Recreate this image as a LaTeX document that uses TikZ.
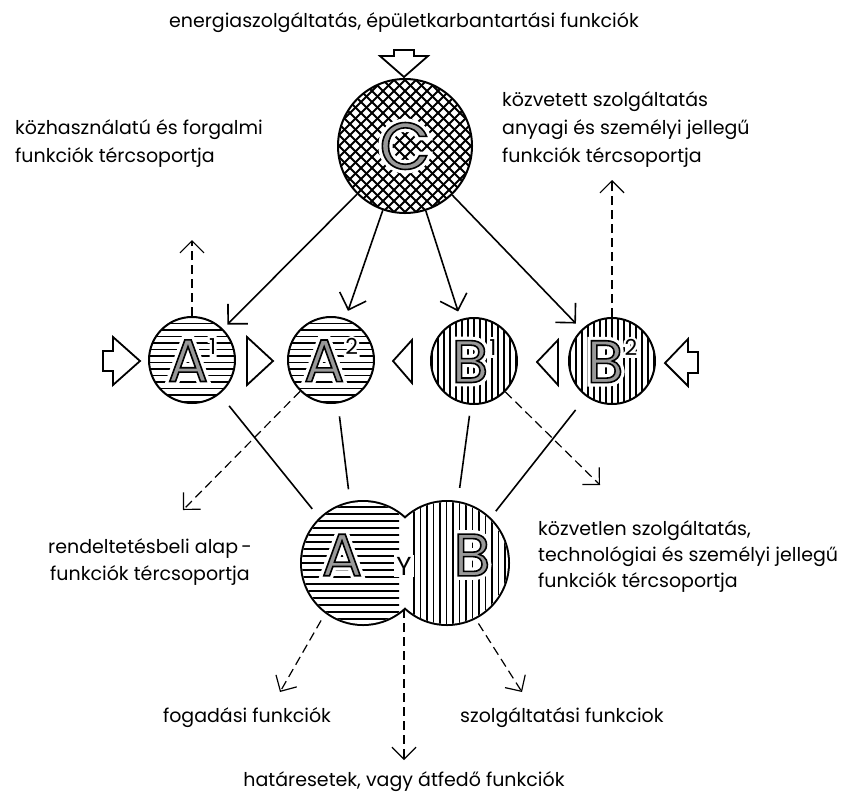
\documentclass[tikz,border=0pt]{standalone}
\usepackage{fontspec}
\setmainfont{Poppins}
\usetikzlibrary{arrows.meta,calc}
\newcommand\lbl{\fontsize{19}{23}\selectfont}
\newcommand\haloT[2]{\rlap{\color{white}\special{pdf:literal direct 2 Tr #1 w}#2\special{pdf:literal direct 0 Tr}}}
\newcommand\bigL[1]{\haloT{8}{#1}{\color{black}\special{pdf:literal direct 2 Tr 1.6 w 0.6 g}#1\special{pdf:literal direct 0 Tr}}}
\newcommand\supL[1]{\haloT{5}{#1}#1}
\newcommand\rowlet[2]{\fontsize{60}{60}\selectfont\bigL{#1}\kern1pt\raisebox{27pt}{\fontsize{22}{22}\selectfont\supL{#2}}}
\tikzset{
  rowc/.style={circle, draw, line width=2pt, minimum size=86pt, inner sep=0pt, fill=white},
  hatchH/.style={path picture={\foreach \k in {-48,-41.5,...,48} \draw[line width=1.3pt] ([shift={(-60pt,\k pt)}]path picture bounding box.center) -- ++(120pt,0pt);}},
  hatchV/.style={path picture={\foreach \k in {-48,-42,...,48} \draw[line width=1.3pt] ([shift={(\k pt,-60pt)}]path picture bounding box.center) -- ++(0pt,120pt);}},
  hatchX/.style={path picture={\foreach \k in {-121,-110,...,121} {\draw[line width=1.8pt] ([shift={(\k pt-80pt,-80pt)}]path picture bounding box.center) -- ++(160pt,160pt); \draw[line width=1.8pt] ([shift={(\k pt-80pt,80pt)}]path picture bounding box.center) -- ++(160pt,-160pt);}}},
  conn/.style={line width=1.6pt},
  dsh/.style={line width=1.2pt, dash pattern=on 9pt off 5pt},
  tipbig/.style={-{Straight Barb[length=14pt,width=28pt]}},
  tipsm/.style={-{Straight Barb[length=12pt,width=24pt]}},
  txt/.style={font=\lbl, inner sep=0pt, anchor=base west},
  txtc/.style={font=\lbl, inner sep=0pt, anchor=base},
  shp/.style={line width=1.8pt, line join=miter},
}
\begin{document}
\begin{tikzpicture}[x=1pt,y=-1pt]
\useasboundingbox (0,0) rectangle (867,796);

% texts
\node[txtc] (t0) at (404,27) {energiaszolgáltatás, épületkarbantartási funkciók};
\node[txt] (tl1) at (15,134) {közhasználatú és forgalmi};
\node[txt] (tl2) at (15,162) {funkciók tércsoportja};
\node[txt] (tr1) at (502,106) {közvetett szolgáltatás};
\node[txt] (tr2) at (502,134) {anyagi és személyi jellegű};
\node[txt] (tr3) at (502,162) {funkciók tércsoportja};
\node[txtc] (ml1) at (150,553) {rendeltetésbeli alap\,-};
\node[txtc] (ml2) at (150,580) {funkciók tércsoportja};
\node[txt] (mr1) at (538,535) {közvetlen szolgáltatás,};
\node[txt] (mr2) at (538,561) {technológiai és személyi jellegű};
\node[txt] (mr3) at (538,587) {funkciók tércsoportja};
\node[txtc] (b1) at (247,722) {fogadási funkciók};
\node[txt] (b2) at (460,722) {szolgáltatási funkciok};
\node[txtc] (b3) at (404,786) {határesetek, vagy átfedő funkciók};

% top circle
\node[rowc, hatchX, minimum size=134pt] (C) at (405,146) {\fontsize{66}{66}\selectfont\bigL{C}};
\draw[shp] (394,50) -- (414,50) -- (414,56) -- (428,56) -- (404,77) -- (380,56) -- (394,56) -- cycle;

% row
\node[rowc, hatchH] (A1) at (192,360) {\rowlet{A}{1}};
\node[rowc, hatchH] (A2) at (331,360) {\rowlet{A}{2}};
\node[rowc, hatchV] (B1) at (474,361) {\rowlet{B}{1}};
\node[rowc, hatchV] (B2) at (612,361) {\rowlet{B}{2}};

\draw[shp] (103,351) -- (113,351) -- (113,337) -- (140,361) -- (113,385) -- (113,371) -- (103,371) -- cycle;
\draw[shp] (698,352) -- (688,352) -- (688,339) -- (665,363) -- (688,386) -- (688,373) -- (698,373) -- cycle;
\draw[shp] (247,337) -- (273,361) -- (247,385) -- cycle;
\draw[shp] (412,340) -- (393,361) -- (412,383) -- cycle;
\draw[shp] (558,340) -- (537,362) -- (558,385) -- cycle;

% Venn
\node[circle, minimum size=124pt, inner sep=0pt] (VA) at (363,563) {};
\node[circle, minimum size=124pt, inner sep=0pt] (VB) at (447,563) {};
\fill (VA) circle (63pt) (VB) circle (63pt);
\fill[white] (VA) circle (61pt) (VB) circle (61pt);
\begin{scope}
  \clip (VA) circle (61pt);
  \clip (290,490) rectangle (399,640);
  \foreach \k in {507,514,...,625} \draw[line width=1.3pt] (290,\k) -- (420,\k);
\end{scope}
\begin{scope}
  \clip (VB) circle (61pt);
  \clip (413,490) rectangle (520,640);
  \foreach \k in {414,420.5,...,512} \draw[line width=1.3pt] (\k,495) -- (\k,635);
\end{scope}
\node (LA) at (342,555) {\fontsize{60}{60}\selectfont\bigL{A}};
\node (LB) at (472,555) {\fontsize{60}{60}\selectfont\bigL{B}};
\node[fill=white, inner sep=2pt] (LY) at (404,566) {\fontsize{26}{26}\selectfont Y};

% connectors from C
\draw[conn, tipbig, shorten >=6pt] (C) -- (A1);
\draw[conn, tipbig, shorten >=8pt] (C) -- (A2);
\draw[conn, tipbig, shorten >=8pt] (C) -- (B1);
\draw[conn, tipbig, shorten >=8pt] (C) -- (B2);

% dashed up
\coordinate (A1up) at (192,240);
\coordinate (B2up) at (612,180);
\draw[dsh, tipsm] (A1) -- (A1up);
\draw[dsh, tipsm] (B2) -- (B2up);

% dashed to middle texts
\coordinate (A2tip) at (183,510);
\coordinate (B1tip) at (600,485);
\draw[dsh, tipsm] (A2) -- (A2tip);
\draw[dsh, tipsm] (B1) -- (B1tip);

% solid into Venn
\draw[conn, shorten <=15pt, shorten >=12pt] (A1.-51) -- (VA.134);
\draw[conn, shorten <=13pt, shorten >=13pt] (A2.-81) -- (VA.102);
\draw[conn, shorten <=11pt, shorten >=14pt] (B1.-94) -- (VB.80);
\draw[conn, shorten <=17pt, shorten >=9pt] (B2.-126) -- (VB.46);

% dashed from Venn
\coordinate (ftip) at (280,692);
\coordinate (htip) at (404,760);
\coordinate (stip) at (522,692);
\draw[dsh, tipsm, shorten <=9pt] (VA.-127) -- (ftip);
\draw[dsh, tipsm, shorten <=32pt] (LY) -- (htip);
\draw[dsh, tipsm, shorten <=6pt] (VB.-63) -- (stip);
\end{tikzpicture}
\end{document}
